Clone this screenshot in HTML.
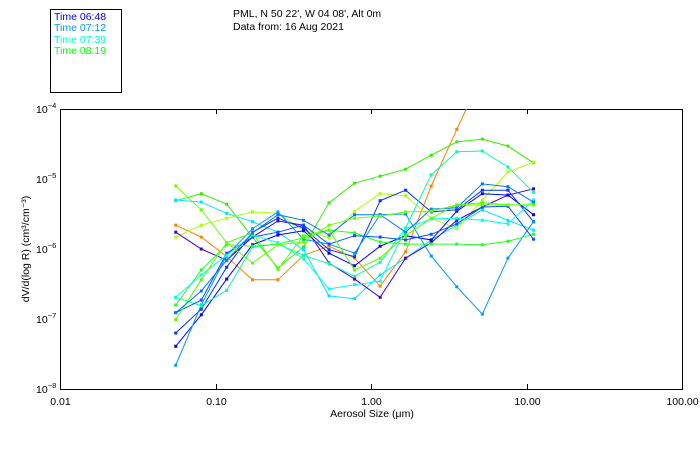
<!DOCTYPE html>
<html><head><meta charset="utf-8"><style>
body{margin:0;background:#fff;}
svg text{font-family:"Liberation Sans",sans-serif;}
</style></head><body>
<svg id="chart" width="700" height="450" xmlns="http://www.w3.org/2000/svg">
<rect x="0" y="0" width="700" height="450" fill="#fff"/>
<g>
<rect x="50.5" y="9.5" width="71" height="83" fill="none" stroke="#000"/>
<text x="54" y="20" font-size="10.5" fill="#0000ff">Time 06:48</text>
<text x="54" y="31" font-size="10.5" fill="#0099ff">Time 07:12</text>
<text x="54" y="43" font-size="10.5" fill="#00ffcc">Time 07:39</text>
<text x="54" y="54" font-size="10.5" fill="#00ff00">Time 08:19</text>
</g>
<text x="233" y="17" font-size="10.5">PML, N 50 22', W 04 08', Alt 0m</text>
<text x="233" y="30" font-size="10.5">Data from: 16 Aug 2021</text>
<g id="axes"></g>
<g id="series"></g>
<text x="372" y="417" font-size="10.5" text-anchor="middle">Aerosol Size (μm)</text>
<text transform="translate(29,249) rotate(-90)" font-size="10.5" text-anchor="middle">dV/d(log R) (cm³/cm⁻³)</text>
</svg>
<script>
const sizes = [0.0555,0.081,0.118,0.173,0.252,0.368,0.537,0.784,1.145,1.67,2.44,3.56,5.2,7.6,11.1];
const xTicks = [0.01,0.1,1,10,100];
const xTickLabels = ["0.01","0.10","1.00","10.00","100.00"];
const yTickExps = [-4,-5,-6,-7,-8];
const colors = ["#ff8000","#33ee00","#00e5ff","#aaff00","#4400cc","#0000ff","#0033ff","#0099ff","#00ffaa","#22ff22","#0055ff","#00ffee","#55ff00","#0077ff","#66ff00"];
const logS1=[-5.66,-5.83,-6.11,-6.44,-6.44,-6.09,-5.96,-6.13,-6.53,-6.04,-5.10,-4.29,-3.51,-3.01,-2.59];
const logS2=[-5.31,-5.21,-5.36,-5.83,-6.27,-5.97,-5.34,-5.06,-4.96,-4.86,-4.66,-4.47,-4.43,-4.53,-4.77];
const logS3=[-5.30,-5.33,-5.49,-5.61,-5.76,-6.01,-6.67,-6.71,-6.37,-6.13,-5.87,-5.66,-5.44,-5.59,-5.73];
const logS4=[-5.83,-5.66,-5.56,-5.47,-5.49,-5.73,-5.84,-5.46,-5.21,-5.24,-5.56,-5.71,-5.30,-4.90,-4.76];
const logS5=[-5.76,-6.00,-6.16,-5.83,-5.60,-5.66,-6.20,-6.43,-6.69,-6.13,-5.91,-5.59,-5.40,-5.23,-5.14];
const logS6=[-7.39,-6.94,-6.43,-5.94,-5.80,-5.74,-6.06,-6.24,-5.96,-5.81,-5.87,-5.46,-5.21,-5.23,-5.51];
const logS7=[-7.20,-6.86,-6.26,-5.76,-5.56,-5.70,-6.01,-6.11,-5.31,-5.16,-5.47,-5.44,-5.16,-5.16,-5.61];
const logS8=[-7.66,-6.80,-6.09,-5.71,-5.47,-5.86,-5.93,-6.06,-5.51,-5.50,-6.10,-6.54,-6.93,-6.13,-5.61];
const logS9=[-6.69,-6.81,-6.59,-5.97,-5.93,-6.09,-6.21,-6.39,-6.19,-5.70,-4.94,-4.61,-4.60,-4.83,-5.19];
const logS10=[-6.80,-6.30,-5.94,-5.96,-5.93,-5.84,-5.73,-5.77,-5.90,-5.93,-5.93,-5.93,-5.94,-5.89,-5.79];
const logS11=[-6.91,-6.73,-6.06,-5.83,-5.76,-5.66,-5.93,-5.81,-5.83,-5.87,-5.79,-5.64,-5.40,-5.39,-5.86];
const logS12=[-6.69,-6.37,-6.09,-5.80,-5.91,-6.14,-6.57,-6.51,-6.46,-5.71,-5.57,-5.56,-5.59,-5.64,-5.30];
const logS13=[-7.01,-6.44,-5.91,-5.77,-6.29,-5.81,-5.73,-6.30,-6.13,-5.81,-5.56,-5.37,-5.34,-5.37,-5.37];
const logS14=[-6.91,-6.60,-6.16,-5.77,-5.51,-5.59,-5.80,-5.51,-5.51,-5.76,-5.43,-5.41,-5.07,-5.11,-5.33];
const logS15=[-5.10,-5.44,-5.91,-6.20,-5.94,-5.90,-5.66,-5.56,-5.53,-5.47,-5.46,-5.37,-5.37,-5.37,-5.37];
const allSeries=[logS1,logS2,logS3,logS4,logS5,logS6,logS7,logS8,logS9,logS10,logS11,logS12,logS13,logS14,logS15];

const NS="http://www.w3.org/2000/svg";
const L=60,R=682,T=109,B=389;
function xScale(v){return L+(Math.log10(v)+2)*(R-L)/4;}
function yScale(e){return T+(-4-e)*(B-T)/4;}
function mk(tag,attrs,parent){const el=document.createElementNS(NS,tag);for(const k in attrs)el.setAttribute(k,attrs[k]);parent.appendChild(el);return el;}

const axes=document.getElementById('axes');
const frame=mk('rect',{x:L+0.5,y:T+0.5,width:R-L,height:B-T,fill:'none',stroke:'#000'},axes);


xTicks.forEach((v,i)=>{
  const x=Math.round(xScale(v))+0.5;
  const t1=mk('line',{x1:x,x2:x,y1:B,y2:B-5,stroke:'#000'},axes);
  
  
  const t2=mk('line',{x1:x,x2:x,y1:T,y2:T+5,stroke:'#000'},axes);
  
  
  const lb=mk('text',{x:x,y:B+16,'font-size':'10.5','text-anchor':'middle'},axes);
  lb.textContent=xTickLabels[i];
  
  
});
yTickExps.forEach(e=>{
  const y=Math.round(yScale(e));
  const lb=mk('text',{x:36,y:y+4,'font-size':'10.5'},axes);
  lb.textContent='10';
  const sup=mk('tspan',{dy:-5,'font-size':'7.5'},lb);
  sup.textContent='−'+(-e);
  
  
});

const sg=document.getElementById('series');
const clip=mk('clipPath',{id:'plotclip'},sg);
mk('rect',{x:L,y:T,width:R-L,height:B-T},clip);
allSeries.forEach((s,i)=>{
  const g=mk('g',{'clip-path':'url(#plotclip)'},sg);
  
  
  const pts=s.map((e,j)=>xScale(sizes[j]).toFixed(1)+','+yScale(e).toFixed(1)).join(' ');
  const pl=mk('polyline',{points:pts,fill:'none',stroke:colors[i],'stroke-width':1},g);
  
  
  s.forEach((e,j)=>{
    const m=mk('rect',{x:xScale(sizes[j])-1.5,y:yScale(e)-1.5,width:3,height:3,fill:colors[i]},g);
    
    
  });
});
</script>
</body></html>
